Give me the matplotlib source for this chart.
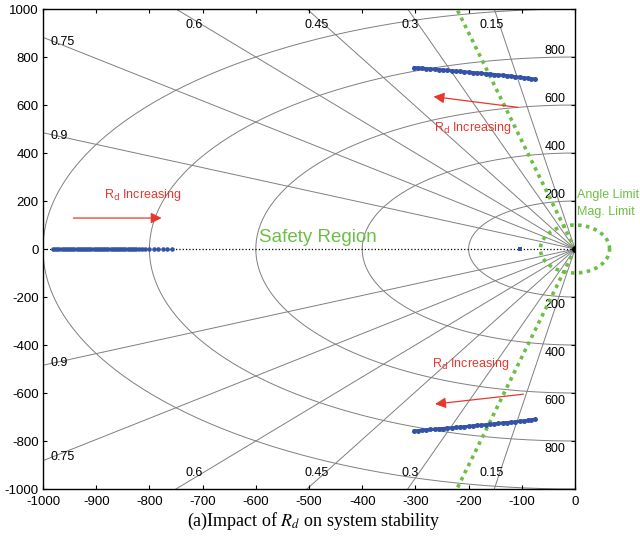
import numpy as np
import matplotlib
matplotlib.use('Agg')
import matplotlib.pyplot as plt

plt.rcParams['font.family'] = ['Liberation Sans', 'DejaVu Sans']
plt.rcParams['axes.unicode_minus'] = False

# damping ratios and natural frequencies of the s-plane grid
zeta_vals = [0.15, 0.3, 0.45, 0.6, 0.75, 0.9]
wn_vals = [200, 400, 600, 800, 1000]
wn_labels = [200, 400, 600, 800]

# real-axis branch (moves right as Rd increases)
real_x = [-981, -977, -973, -969, -965, -961, -957, -953, -949, -945, -941, -937,
          -933, -929, -925, -921, -917, -913, -909, -905, -901, -897, -893, -889,
          -885, -881, -877, -873, -869, -865, -861, -857, -853, -849, -845, -841,
          -837, -833, -829, -825, -820, -814, -808, -801, -792, -783, -775, -766, -757]
# fixed real pole
pole_x = [-104]
pole_y = [0]

# complex branch, upper half
upper_x = [-302, -295, -287, -280, -272, -264, -256, -248, -240, -232, -224, -216,
           -208, -200, -192, -184, -176, -168, -160, -152, -144, -136, -128, -120,
           -112, -104, -96, -89, -82, -76]
upper_y = [756, 755, 753, 752, 750, 749, 747, 746, 744, 743, 741, 740,
           738, 737, 735, 734, 732, 730, 729, 727, 725, 724, 722, 720,
           718, 716, 714, 712, 710, 708]
# complex branch, lower half
lower_x = [-302, -295, -287, -280, -272, -264, -256, -248, -240, -232, -224, -216,
           -208, -200, -192, -184, -176, -168, -160, -152, -144, -136, -128, -120,
           -112, -104, -96, -89, -82, -76]
lower_y = [-758, -757, -755, -754, -752, -751, -749, -748, -746, -745, -743, -742,
           -740, -739, -737, -735, -734, -732, -730, -729, -727, -725, -723, -722,
           -720, -718, -716, -714, -712, -710]

# limits drawn in green
angle_end_x = -222
angle_end_y = 1000
mag_rx = 65
mag_ry = 100

blue = '#3453a8'
red = '#e6382d'
green = '#6cbf45'
grey = '#7f7f7f'

fig = plt.figure(figsize=(6.4, 5.36), dpi=100)
ax = fig.add_axes([43 / 640, 47 / 536, 532 / 640, 480 / 536])

# damping lines
for z in zeta_vals:
    s = np.sqrt(1 - z ** 2)
    for sign in (1, -1):
        ax.plot([0, -3000 * z], [0, sign * 3000 * s], color=grey, lw=0.7, zorder=1)
# natural frequency arcs
t = np.linspace(np.pi / 2, 3 * np.pi / 2, 200)
for wn in wn_vals:
    ax.plot(wn * np.cos(t), wn * np.sin(t), color=grey, lw=0.7, zorder=1)

# grid labels
for z in zeta_vals:
    slope = np.sqrt(1 - z ** 2) / z
    if z >= 0.75:
        yl = 985 * slope
        ax.text(-985, yl - 8, f'{z:g}', ha='left', va='center', fontsize=9, zorder=2)
        ax.text(-985, -yl, f'{z:g}', ha='left', va='center', fontsize=9, zorder=2)
    else:
        xl = -935 / slope - 15
        ax.text(xl, 935, f'{z:g}', ha='center', va='center', fontsize=9, zorder=2)
        ax.text(xl, -935, f'{z:g}', ha='center', va='center', fontsize=9, zorder=2)
for wn in wn_labels:
    ax.text(-18, wn + 2, str(wn), ha='right', va='bottom', fontsize=9, zorder=2)
    ax.text(-18, -wn - 8, str(wn), ha='right', va='top', fontsize=9, zorder=2)

# real axis
ax.plot([-1000, 0], [0, 0], color='black', lw=0.9, ls=':', zorder=2)

# loci
ax.plot(real_x, [0] * len(real_x), 'o', color=blue, ms=3.3, mew=0, zorder=4)
ax.plot(pole_x, pole_y, 's', color=blue, ms=3.5, mew=0, zorder=4)
ax.plot(upper_x, upper_y, '-o', color=blue, lw=2.2, ms=3.6, mew=0, zorder=4)
ax.plot(lower_x, lower_y, '-o', color=blue, lw=2.2, ms=3.6, mew=0, zorder=4)

# limits
dots = (0, (1, 1.2))
ax.plot([0, angle_end_x], [0, angle_end_y], color=green, lw=2.6, ls=dots, zorder=3)
ax.plot([0, angle_end_x], [0, -angle_end_y], color=green, lw=2.6, ls=dots, zorder=3)
te = np.linspace(0, 2 * np.pi, 200)
ax.plot(mag_rx * np.cos(te), mag_ry * np.sin(te), color=green, lw=2.6, ls=dots,
        zorder=3, clip_on=False)
ax.plot([0], [0], 'o', color='black', ms=4, zorder=5)

# arrows and annotations
arrows = [((-943, 129), (-777, 129)), ((-107, 590), (-266, 635)), ((-97, -605), (-263, -646))]
for tail, tip in arrows:
    ax.annotate('', xy=tip, xytext=tail,
                arrowprops=dict(arrowstyle='-|>', color=red, lw=0.9,
                                mutation_scale=16, shrinkA=0, shrinkB=0), zorder=6)
for (xt, yt) in [(-813, 225), (-193, 504), (-196, -480)]:
    ax.text(xt, yt, r'R$_\mathsf{d}$ Increasing', color=red, fontsize=9,
            ha='center', va='center', math_fontfamily='dejavusans', zorder=6)

ax.text(-483, 46, 'Safety Region', color=green, fontsize=13.5, ha='center', va='center', zorder=6)
ax.text(4, 225, 'Angle Limit', color=green, fontsize=9, ha='left', va='center', clip_on=False)
ax.text(4, 154, 'Mag. Limit', color=green, fontsize=9, ha='left', va='center', clip_on=False)

ax.set_xlim(-1000, 0)
ax.set_ylim(-1000, 1000)
ax.set_xticks(np.arange(-1000, 1, 100))
ax.set_yticks(np.arange(-1000, 1001, 200))
ax.tick_params(direction='in', top=True, right=True, length=3, labelsize=9.5)
ax.tick_params(axis='x', pad=5)
ax.tick_params(axis='y', pad=3)
for sp in ax.spines.values():
    sp.set_linewidth(1.0)

fig.text(0.49, 0.028, r'(a)Impact of $R_d$ on system stability', ha='center', va='center',
         fontsize=13, family='Liberation Serif', math_fontfamily='stix')

fig.savefig('out.png', dpi=100)
